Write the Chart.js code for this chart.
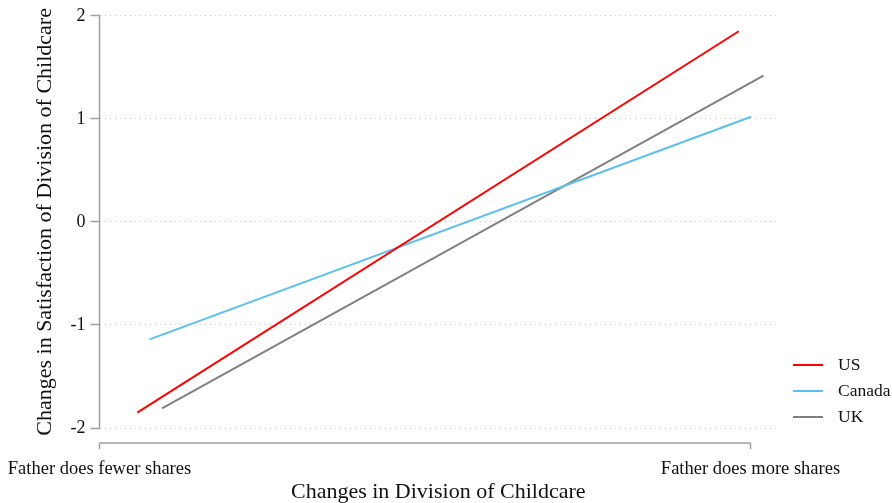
<!DOCTYPE html>
<html><head><meta charset="utf-8">
<script src="https://cdn.jsdelivr.net/npm/chart.js@4/dist/chart.umd.min.js"></script>
<style>html,body{margin:0;padding:0;background:#fff}#wrap{width:892px;height:503px;position:relative}</style>
</head><body><div id="wrap"><canvas id="c"></canvas></div>
<script>
// Data
const categories = ['Father does fewer shares', 'Father does more shares'];
const categoryX = [0, 1];
const yTicks = [-2, -1, 0, 1, 2];
const seriesNames = ['US', 'Canada', 'UK'];
const usX = [0.058, 0.982];
const usY = [-1.85, 1.85];
const canadaX = [0.077, 1.001];
const canadaY = [-1.14, 1.02];
const ukX = [0.096, 1.020];
const ukY = [-1.81, 1.42];
const colors = ['#ff0000', '#5bc0eb', '#808080'];

const pts = (xs, ys) => xs.map((x, i) => ({x: x, y: ys[i]}));
const seriesData = [pts(usX, usY), pts(canadaX, canadaY), pts(ukX, ukY)];

const FONT = "'Liberation Serif', 'Times New Roman', serif";
const AXIS_COLOR = '#a0a0a0';
const X_AXIS_GAP = 15;   // x axis sits a little below the plot area
const X_TICK_LEN = 6;

const axisLines = {
  id: 'axisLines',
  afterDraw(chart) {
    const {ctx, chartArea, scales} = chart;
    const x = scales.x, y = scales.y;
    const xa = chartArea.bottom + X_AXIS_GAP;
    ctx.save();
    ctx.strokeStyle = AXIS_COLOR;
    ctx.lineWidth = 1.5;
    ctx.beginPath();
    ctx.moveTo(chartArea.left, y.getPixelForValue(yTicks[yTicks.length - 1]));
    ctx.lineTo(chartArea.left, y.getPixelForValue(yTicks[0]));
    ctx.moveTo(x.getPixelForValue(categoryX[0]), xa);
    ctx.lineTo(x.getPixelForValue(categoryX[categoryX.length - 1]), xa);
    categoryX.forEach(v => {
      const px = x.getPixelForValue(v);
      ctx.moveTo(px, xa);
      ctx.lineTo(px, xa + X_TICK_LEN);
    });
    ctx.stroke();
    ctx.restore();
  }
};

// Legend drawn from the datasets (label + colour), placed right of the plot area
const sideLegend = {
  id: 'sideLegend',
  afterDraw(chart) {
    const {ctx, chartArea} = chart;
    const ds = chart.data.datasets;
    const n = ds.length;
    const rowGap = 26;
    ctx.save();
    ctx.font = "17.5px " + FONT;
    ctx.textBaseline = 'middle';
    ctx.textAlign = 'left';
    ds.forEach((d, i) => {
      const yy = chartArea.bottom + X_AXIS_GAP - rowGap * (n - i);
      const x0 = chartArea.right + 16;
      ctx.strokeStyle = d.borderColor;
      ctx.lineWidth = d.borderWidth;
      ctx.beginPath();
      ctx.moveTo(x0, yy);
      ctx.lineTo(x0 + 30, yy);
      ctx.stroke();
      ctx.fillStyle = '#111';
      ctx.fillText(d.label, x0 + 45, yy);
    });
    ctx.restore();
  }
};

new Chart(document.getElementById('c'), {
  type: 'scatter',
  data: {
    datasets: seriesNames.map((n, i) => ({
      label: n,
      data: seriesData[i],
      showLine: true,
      borderColor: colors[i],
      backgroundColor: colors[i],
      borderWidth: 2,
      pointRadius: 0,
      pointHoverRadius: 0
    }))
  },
  options: {
    responsive: true,
    maintainAspectRatio: false,
    animation: false,
    events: [],
    layout: {padding: {top: 14, right: 115, bottom: 0, left: 0}},
    plugins: {
      tooltip: {enabled: false},
      legend: {display: false}
    },
    scales: {
      x: {
        type: 'linear',
        min: 0,
        max: 1.0407,
        afterBuildTicks: s => { s.ticks = categoryX.map(v => ({value: v})); },
        afterFit: s => { s.height = 75; },
        ticks: {
          callback: (v) => { const i = categoryX.indexOf(v); return i >= 0 ? categories[i] : ''; },
          color: '#111',
          font: {family: FONT, size: 18.5},
          padding: 7,
          maxRotation: 0,
          autoSkip: false
        },
        grid: {display: false, drawTicks: true, tickLength: 23},
        border: {display: false},
        title: {display: true, text: 'Changes in Division of Childcare', color: '#111',
                font: {family: FONT, size: 22, lineHeight: 1}, padding: {top: 0, bottom: 0}}
      },
      y: {
        type: 'linear',
        min: -2,
        max: 2,
        afterBuildTicks: s => { s.ticks = yTicks.map(v => ({value: v})); },
        afterFit: s => { s.width = 99.5; },
        ticks: {color: '#111', font: {family: FONT, size: 18}, padding: 5},
        grid: {color: '#c4c4c4', lineWidth: 1, tickLength: 9, tickColor: AXIS_COLOR, tickWidth: 1.5},
        border: {display: false, dash: [1, 4]},
        title: {display: true, text: 'Changes in Satisfaction of Division of Childcare', color: '#111',
                font: {family: FONT, size: 22, lineHeight: 1.2}, padding: {top: 32, bottom: 0}}
      }
    }
  },
  plugins: [axisLines, sideLegend]
});
</script>
</body></html>
